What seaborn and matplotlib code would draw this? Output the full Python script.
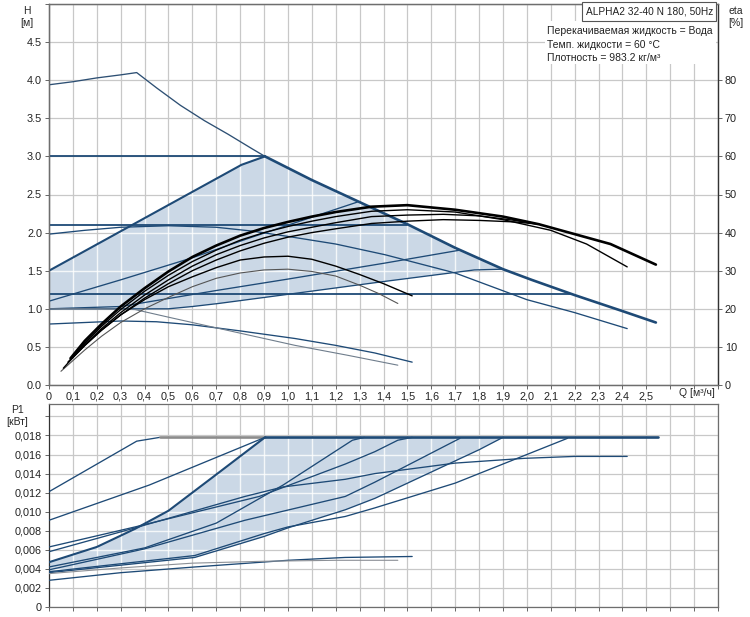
import matplotlib
matplotlib.use("Agg")
import matplotlib.pyplot as plt
import seaborn as sns
from matplotlib.patches import Rectangle

# ---------- H(Q) curves, Q in m3/h, H in m ----------
q_max_thin = [0, 0.1, 0.2, 0.3, 0.367, 0.45, 0.55, 0.65, 0.75, 0.85, 0.904]
h_max_thin = [3.94, 3.98, 4.03, 4.07, 4.10, 3.90, 3.67, 3.47, 3.29, 3.10, 3.0]
q_max_thick = [0.904, 1.1, 1.3, 1.5, 1.7, 1.9, 2.02, 2.2, 2.4, 2.54]
h_max_thick = [3.0, 2.69, 2.40, 2.11, 1.80, 1.52, 1.38, 1.18, 0.97, 0.82]

q_upper = [0, 0.806, 0.904]
h_upper = [1.5, 2.89, 3.0]

q_speed2 = [0, 0.15, 0.3, 0.5, 0.7, 0.85, 1.0, 1.2, 1.406, 1.7, 2.0, 2.2, 2.42]
h_speed2 = [1.98, 2.03, 2.07, 2.09, 2.07, 2.02, 1.95, 1.85, 1.71, 1.47, 1.12, 0.95, 0.74]

q_lineB = [0, 0.3, 0.6, 0.84, 1.05, 1.29]
h_lineB = [1.10, 1.38, 1.67, 1.93, 2.15, 2.40]

q_lineC2 = [0, 0.3, 0.7, 1.0, 1.406, 1.72]
h_lineC2 = [1.0, 1.03, 1.24, 1.39, 1.60, 1.77]

q_lower = [0, 0.5, 0.6, 0.71, 1.0, 1.406, 1.78, 1.9]
h_lower = [1.0, 1.0, 1.03, 1.07, 1.19, 1.36, 1.51, 1.52]

q_min = [0, 0.15, 0.3, 0.45, 0.6, 0.8, 1.03, 1.2, 1.364, 1.52]
h_min = [0.80, 0.82, 0.84, 0.83, 0.79, 0.71, 0.61, 0.52, 0.42, 0.30]

q_min2 = [0, 0.2, 0.36, 0.5, 0.7, 1.03, 1.25, 1.46]
h_min2 = [1.0, 1.0, 0.99, 0.89, 0.75, 0.52, 0.39, 0.26]

# constant pressure lines: (head, end flow)
cp_heads = [3.0, 2.1, 1.2]
cp_ends = [0.904, 1.5, 2.19]

# ---------- eta(Q) curves, % ----------
q_eta1 = [0.09, 0.15, 0.22, 0.3, 0.4, 0.5, 0.6, 0.7, 0.8, 0.9, 1.0, 1.1, 1.2, 1.35, 1.5, 1.7, 1.9, 2.05, 2.2, 2.35, 2.54]
eta1 = [7.0, 11.6, 16.0, 20.6, 25.4, 29.8, 33.6, 36.6, 39.2, 41.2, 42.8, 44.2, 45.4, 46.8, 47.2, 46.0, 44.2, 42.2, 39.6, 37.0, 31.6]
q_eta2 = [0.09, 0.15, 0.22, 0.3, 0.4, 0.5, 0.6, 0.7, 0.8, 0.9, 1.0, 1.1, 1.2, 1.35, 1.5, 1.7, 1.9, 2.1, 2.25, 2.42]
eta2 = [6.6, 11.0, 15.4, 19.8, 24.6, 28.8, 32.4, 35.4, 38.0, 40.0, 41.6, 43.0, 44.2, 45.6, 46.0, 45.4, 43.4, 40.6, 37.0, 31.0]
q_eta3 = [0.08, 0.15, 0.22, 0.3, 0.4, 0.5, 0.6, 0.7, 0.8, 0.9, 1.0, 1.1, 1.2, 1.35, 1.5, 1.65, 1.8, 1.95, 2.05]
eta3 = [6.0, 10.6, 14.8, 19.0, 23.6, 27.6, 31.2, 34.2, 36.6, 38.6, 40.2, 41.4, 42.6, 44.2, 44.6, 44.8, 44.4, 43.2, 42.2]
q_eta4 = [0.08, 0.15, 0.22, 0.3, 0.4, 0.5, 0.6, 0.7, 0.8, 0.9, 1.0, 1.1, 1.2, 1.35, 1.5, 1.65, 1.8, 1.95, 2.05]
eta4 = [6.0, 10.4, 14.4, 18.4, 22.8, 26.6, 30.0, 32.8, 35.2, 37.2, 38.8, 40.0, 41.0, 42.4, 43.0, 43.4, 43.2, 42.8, 42.2]
q_eta5 = [0.06, 0.1, 0.15, 0.22, 0.3, 0.4, 0.5, 0.6, 0.7, 0.8, 0.9, 1.0, 1.1, 1.2, 1.3, 1.4, 1.52]
eta5 = [4.4, 7.2, 10.4, 14.4, 18.4, 22.4, 25.8, 28.4, 30.8, 32.8, 33.6, 33.8, 33.0, 31.2, 29.0, 26.6, 23.4]
q_eta6 = [0.05, 0.1, 0.15, 0.22, 0.3, 0.4, 0.5, 0.6, 0.7, 0.8, 0.9, 1.0, 1.1, 1.2, 1.3, 1.38, 1.46]
eta6 = [3.6, 6.4, 9.2, 12.8, 16.4, 20.0, 23.0, 25.8, 28.0, 29.4, 30.2, 30.4, 29.8, 28.6, 26.2, 24.0, 21.4]

# ---------- P1(Q) curves, kW ----------
p_limit = 0.0178
q_pmax = [0, 0.367, 0.464]
p_pmax = [0.0121, 0.0174, 0.0178]
q_p30 = [0, 0.42, 0.904]
p_p30 = [0.0091, 0.0128, 0.0178]
q_pupper = [0, 0.2, 0.36, 0.5, 0.7, 0.904]
p_pupper = [0.0047, 0.0063, 0.0082, 0.0101, 0.0139, 0.0178]
q_p21 = [0, 0.36, 0.88, 1.24, 1.364, 1.46, 1.52]
p_p21 = [0.0063, 0.0084, 0.0116, 0.0150, 0.0163, 0.0175, 0.0178]
q_pspeed2 = [0, 0.36, 0.82, 0.98, 1.24, 1.364, 1.7, 1.99, 2.2, 2.42]
p_pspeed2 = [0.0058, 0.0083, 0.0116, 0.0126, 0.0134, 0.0140, 0.0151, 0.0156, 0.0158, 0.0158]
q_pB = [0, 0.4, 0.7, 0.98, 1.27, 1.32]
p_pB = [0.0042, 0.0062, 0.0088, 0.0128, 0.0175, 0.0178]
q_pC2 = [0, 0.4, 0.82, 1.24, 1.364, 1.72]
p_pC2 = [0.0039, 0.0061, 0.0091, 0.0116, 0.0131, 0.0177]
q_plower = [0, 0.61, 0.90, 1.0, 1.24, 1.364, 1.8, 1.9]
p_plower = [0.0036, 0.0052, 0.0074, 0.0083, 0.0102, 0.0114, 0.0165, 0.0178]
q_p12 = [0, 0.61, 0.90, 1.0, 1.24, 1.364, 1.70, 2.17]
p_p12 = [0.0037, 0.0054, 0.0077, 0.0084, 0.0095, 0.0104, 0.0130, 0.0177]
q_pmin = [0, 0.3, 0.61, 1.0, 1.24, 1.52]
p_pmin = [0.0028, 0.0036, 0.0042, 0.0049, 0.0052, 0.0053]
q_pmin2 = [0, 0.3, 0.6, 0.9, 1.2, 1.46]
p_pmin2 = [0.0035, 0.0041, 0.0046, 0.0048, 0.0049, 0.0049]

q_ticks = [i / 10 for i in range(29)]
q_labels = [("0" if i == 0 else f"{i / 10:.1f}".replace(".", ",")) if i <= 25 else "" for i in range(29)]
h_ticks = [i / 2 for i in range(11)]
h_labels = [f"{t:.1f}" for t in h_ticks[:-1]] + [""]
eta_ticks = list(range(0, 90, 10))
p_ticks = [i * 0.002 for i in range(11)]
p_labels = ["0"] + [f"{t:.3f}".replace(".", ",") for t in p_ticks[1:-1]] + [""]

NAVY = "#1e4a76"
SHADE = "#cbd8e6"
GRID = "#c8c8c8"
TICK_FS = 7.8

sns.set_style("whitegrid", {"grid.color": GRID, "axes.edgecolor": "#6e6e6e"})
plt.rcParams["font.family"] = ["Liberation Sans", "DejaVu Sans"]
plt.rcParams["font.size"] = 7.5


def curve(ax, q, v, color=NAVY, lw=0.95, z=3):
    sns.lineplot(x=q, y=v, ax=ax, color=color, linewidth=lw, sort=False,
                 estimator=None, zorder=z)


def shade(ax, xs, ys, xt, yt, x0, x1, y0, y1):
    poly = ax.fill(xs, ys, color=SHADE, lw=0, zorder=1.2)[0]
    vl = ax.vlines(xt, y0, y1, colors="white", lw=1.0, alpha=0.8, zorder=1.3)
    hl = ax.hlines(yt, x0, x1, colors="white", lw=1.0, alpha=0.8, zorder=1.3)
    vl.set_clip_path(poly)
    hl.set_clip_path(poly)


def style_ticks(a):
    a.tick_params(axis="both", length=3, width=0.7, color="#666666", pad=2,
                  labelsize=TICK_FS, labelcolor="#222222")


fig = plt.figure(figsize=(7.5, 6.17), dpi=100)
ax = fig.add_axes([49 / 750, 1 - 385 / 617, 669 / 750, 381 / 617])
axp = fig.add_axes([49 / 750, 1 - 607 / 617, 669 / 750, 203 / 617])

# ---------- top chart ----------
sel = [i for i, q in enumerate(q_max_thick) if q <= 1.9]
sx = q_upper + [q_max_thick[i] for i in sel] + q_lower[::-1]
sy = h_upper + [h_max_thick[i] for i in sel] + h_lower[::-1]
shade(ax, sx, sy, q_ticks, h_ticks, 0, 2.8, 0, 5)

curve(ax, q_max_thin, h_max_thin, color="#2d4f73", lw=0.95)
curve(ax, q_max_thick, h_max_thick, lw=1.9, z=4)
curve(ax, q_upper, h_upper, lw=1.5)
for h, qe in zip(cp_heads, cp_ends):
    curve(ax, [0, qe], [h, h], lw=1.3)
curve(ax, q_speed2, h_speed2)
curve(ax, q_lineB, h_lineB)
curve(ax, q_lineC2, h_lineC2)
curve(ax, q_lower, h_lower)
curve(ax, q_min, h_min)
curve(ax, q_min2, h_min2, color="#6f7d8c", lw=0.8)

ax.set_xlim(0, 2.8)
ax.set_ylim(0, 5)
ax.set_xticks(q_ticks)
ax.set_xticklabels(q_labels)
ax.set_yticks(h_ticks)
ax.set_yticklabels(h_labels)
ax.grid(True, color=GRID, lw=0.9)
ax.set_axisbelow(True)
ax.set_xlabel("")
ax.set_ylabel("")
style_ticks(ax)
ax.tick_params(bottom=True, left=True)

ax2 = ax.twinx()
for q, e, lw, c in [(q_eta6, eta6, 0.8, "#555555"), (q_eta5, eta5, 1.0, "black"),
                    (q_eta4, eta4, 1.0, "black"), (q_eta3, eta3, 1.0, "black"),
                    (q_eta2, eta2, 1.0, "black"), (q_eta1, eta1, 1.9, "black")]:
    curve(ax2, q, e, color=c, lw=lw)
ax2.set_ylim(0, 100)
ax2.set_yticks(eta_ticks)
ax2.grid(False)
ax2.set_ylabel("")
style_ticks(ax2)
ax2.tick_params(axis="y", right=True)
for a in (ax, ax2):
    for s in a.spines.values():
        s.set_linewidth(0.9)
        s.set_color("#6e6e6e")
ax2.spines["right"].set_color("#333333")
ax.spines["left"].set_color("#333333")

# ---------- bottom chart ----------
px_ = q_pupper + [1.9] + q_plower[::-1]
py_ = p_pupper + [p_limit] + p_plower[::-1]
shade(axp, px_, py_, q_ticks, p_ticks, 0, 2.8, 0, 0.0213)

curve(axp, q_pmax, p_pmax)
curve(axp, [0.464, 0.904], [p_limit, p_limit], color="#8c8c8c", lw=1.9)
curve(axp, [0.904, 2.55], [p_limit, p_limit], lw=1.9, z=4)
curve(axp, q_p30, p_p30)
curve(axp, q_pupper, p_pupper, lw=1.5)
curve(axp, q_p21, p_p21)
curve(axp, q_pspeed2, p_pspeed2)
curve(axp, q_pB, p_pB)
curve(axp, q_pC2, p_pC2)
curve(axp, q_plower, p_plower)
curve(axp, q_p12, p_p12)
curve(axp, q_pmin, p_pmin)
curve(axp, q_pmin2, p_pmin2, color="#8c9096", lw=0.8)

axp.set_xlim(0, 2.8)
axp.set_ylim(0, 0.0213)
axp.set_xticks(q_ticks)
axp.set_xticklabels([""] * len(q_ticks))
axp.set_yticks(p_ticks)
axp.set_yticklabels(p_labels)
axp.grid(True, color=GRID, lw=0.9)
axp.set_axisbelow(True)
axp.set_xlabel("")
axp.set_ylabel("")
style_ticks(axp)
axp.tick_params(bottom=True, left=True)
for s in axp.spines.values():
    s.set_linewidth(0.9)
    s.set_color("#6e6e6e")
axp.spines["left"].set_color("#333333")

# ---------- labels and info box ----------
fig.text(27 / 750, 1 - 11 / 617, "H", ha="center", va="center")
fig.text(27 / 750, 1 - 23 / 617, "[м]", ha="center", va="center")
fig.text(736 / 750, 1 - 11 / 617, "eta", ha="center", va="center")
fig.text(736 / 750, 1 - 23 / 617, "[%]", ha="center", va="center")
fig.text(17 / 750, 1 - 410 / 617, "P1", ha="center", va="center")
fig.text(17 / 750, 1 - 422 / 617, "[кВт]", ha="center", va="center")
fig.text(697 / 750, 1 - 393 / 617, "Q [м³/ч]", ha="center", va="center")

fig.patches.append(Rectangle((545 / 750, 1 - 64 / 617), 171 / 750, 43 / 617,
                             transform=fig.transFigure, facecolor="white",
                             edgecolor="none", zorder=1))
fig.patches.append(Rectangle((582 / 750, 1 - 21 / 617), 134 / 750, 19 / 617,
                             transform=fig.transFigure, facecolor="white",
                             edgecolor="#555555", lw=0.8, zorder=1))
fig.text(586 / 750, 1 - 11.5 / 617, "ALPHA2 32-40 N 180, 50Hz", ha="left",
         va="center", fontsize=7.3, color="#222222")
info = ["Перекачиваемая жидкость = Вода", "Темп. жидкости = 60 °C",
        "Плотность = 983.2 кг/м³"]
for i, t in enumerate(info):
    fig.text(547 / 750, 1 - (31 + 13.5 * i) / 617, t, ha="left", va="center",
             fontsize=7.5, color="#222222")

fig.savefig("out.png", dpi=100)
